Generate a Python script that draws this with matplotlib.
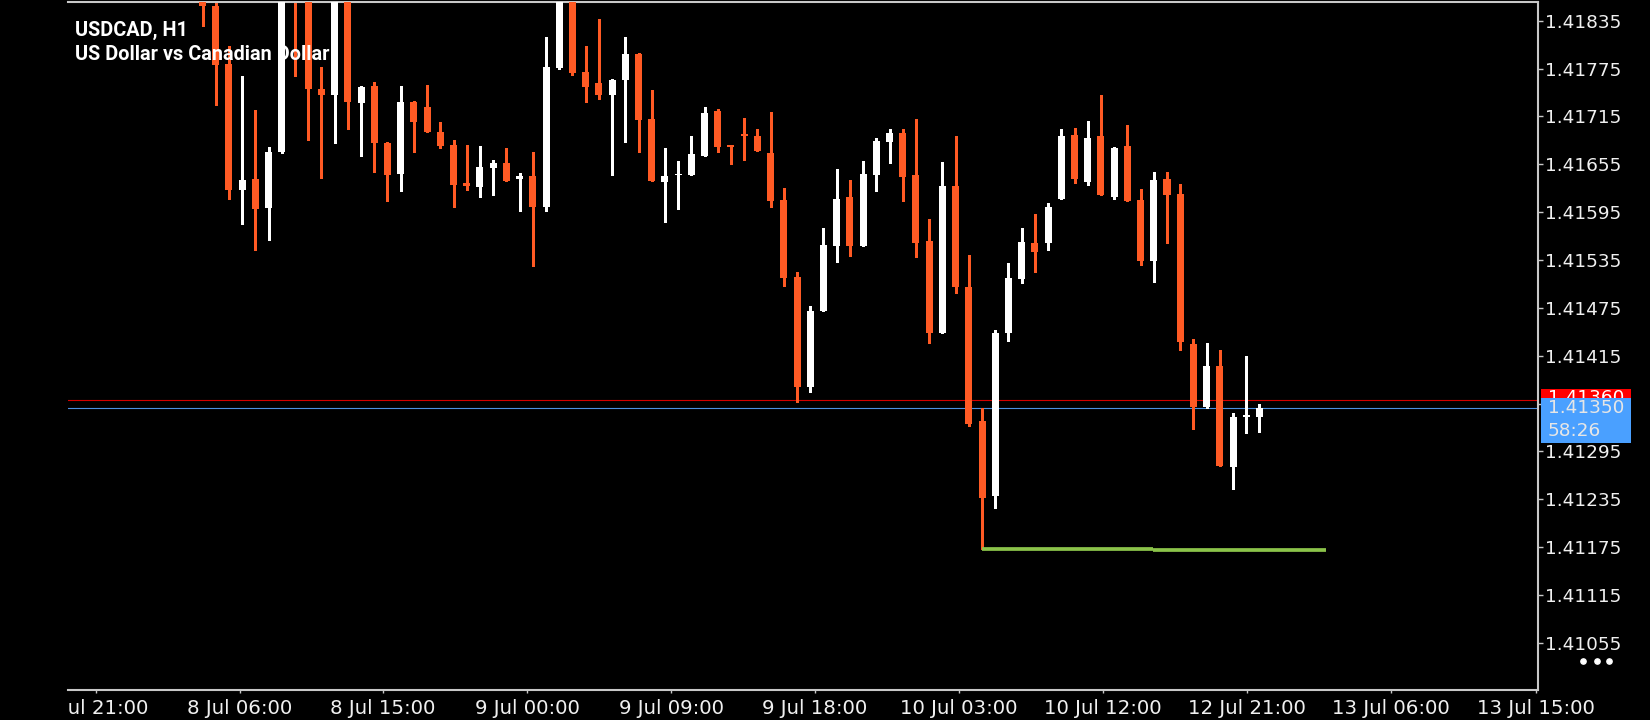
import matplotlib
matplotlib.use("Agg")
import matplotlib.pyplot as plt
import numpy as np
from matplotlib.patches import Rectangle
from matplotlib.lines import Line2D
from matplotlib.transforms import (blended_transform_factory, Bbox,
                                   TransformedBbox, IdentityTransform)

# ---------------- data (USDCAD, H1) ----------------
opens = [1.41880, 1.41853, 1.41781, 1.41623, 1.41637, 1.41600, 1.41670, 1.41899, 1.41871, 1.41749,
         1.41742, 1.41869, 1.41732, 1.41753, 1.41682, 1.41643, 1.41733, 1.41727, 1.41696, 1.41679,
         1.41631, 1.41626, 1.41651, 1.41657, 1.41636, 1.41640, 1.41602, 1.41776, 1.41871, 1.41771,
         1.41757, 1.41742, 1.41761, 1.41793, 1.41712, 1.41633, 1.41641, 1.41642, 1.41666, 1.41722,
         1.41679, 1.41693, 1.41690, 1.41669, 1.41610, 1.41514, 1.41376, 1.41471, 1.41553, 1.41614,
         1.41552, 1.41641, 1.41683, 1.41694, 1.41642, 1.41559, 1.41443, 1.41628, 1.41501, 1.41333,
         1.41239, 1.41443, 1.41511, 1.41556, 1.41557, 1.41612, 1.41692, 1.41633, 1.41690, 1.41614,
         1.41678, 1.41610, 1.41534, 1.41637, 1.41618, 1.41430, 1.41351, 1.41402, 1.41276, 1.41338,
         1.41338]
highs = [1.41892, 1.41861, 1.41803, 1.41766, 1.41723, 1.41677, 1.41905, 1.41911, 1.41876, 1.41777,
         1.41876, 1.41874, 1.41753, 1.41758, 1.41683, 1.41753, 1.41734, 1.41754, 1.41708, 1.41685,
         1.41679, 1.41678, 1.41660, 1.41675, 1.41644, 1.41670, 1.41815, 1.41880, 1.41880, 1.41803,
         1.41837, 1.41762, 1.41815, 1.41794, 1.41748, 1.41675, 1.41659, 1.41690, 1.41727, 1.41724,
         1.41679, 1.41713, 1.41699, 1.41721, 1.41625, 1.41520, 1.41477, 1.41575, 1.41649, 1.41635,
         1.41659, 1.41688, 1.41699, 1.41699, 1.41712, 1.41586, 1.41658, 1.41690, 1.41541, 1.41349,
         1.41447, 1.41531, 1.41575, 1.41593, 1.41606, 1.41699, 1.41700, 1.41709, 1.41742, 1.41677,
         1.41704, 1.41624, 1.41645, 1.41645, 1.41630, 1.41436, 1.41431, 1.41422, 1.41343, 1.41415,
         1.41354]
lows = [1.41828, 1.41729, 1.41611, 1.41580, 1.41548, 1.41560, 1.41669, 1.41766, 1.41685, 1.41638,
        1.41682, 1.41699, 1.41665, 1.41646, 1.41609, 1.41622, 1.41671, 1.41695, 1.41676, 1.41601,
        1.41623, 1.41614, 1.41616, 1.41634, 1.41596, 1.41527, 1.41596, 1.41774, 1.41767, 1.41733,
        1.41737, 1.41642, 1.41683, 1.41670, 1.41634, 1.41583, 1.41599, 1.41642, 1.41666, 1.41670,
        1.41656, 1.41661, 1.41672, 1.41602, 1.41503, 1.41357, 1.41369, 1.41471, 1.41532, 1.41540,
        1.41552, 1.41622, 1.41657, 1.41609, 1.41539, 1.41431, 1.41443, 1.41494, 1.41327, 1.41173,
        1.41224, 1.41434, 1.41506, 1.41520, 1.41547, 1.41612, 1.41631, 1.41629, 1.41616, 1.41611,
        1.41609, 1.41529, 1.41508, 1.41557, 1.41422, 1.41323, 1.41350, 1.41277, 1.41248, 1.41318,
        1.41320]
closes = [1.41853, 1.41779, 1.41623, 1.41635, 1.41599, 1.41670, 1.41899, 1.41871, 1.41750, 1.41742,
          1.41869, 1.41733, 1.41752, 1.41682, 1.41642, 1.41733, 1.41708, 1.41695, 1.41678, 1.41629,
          1.41628, 1.41652, 1.41657, 1.41634, 1.41640, 1.41601, 1.41777, 1.41871, 1.41770, 1.41752,
          1.41742, 1.41761, 1.41793, 1.41711, 1.41634, 1.41640, 1.41643, 1.41668, 1.41719, 1.41677,
          1.41677, 1.41690, 1.41672, 1.41609, 1.41512, 1.41376, 1.41471, 1.41554, 1.41611, 1.41553,
          1.41643, 1.41684, 1.41694, 1.41639, 1.41557, 1.41443, 1.41628, 1.41501, 1.41330, 1.41237,
          1.41443, 1.41512, 1.41558, 1.41545, 1.41601, 1.41690, 1.41636, 1.41688, 1.41616, 1.41675,
          1.41609, 1.41534, 1.41635, 1.41617, 1.41432, 1.41351, 1.41402, 1.41277, 1.41338, 1.41341,
          1.41350]

bid_price = 1.41350
ask_price = 1.41360
timer_text = "58:26"

# green support line (candle index anchors and price levels)
green_start = [59, 71.94]
green_end = [71.94, 85.0]
green_level = [1.411728, 1.411716]

ytick_labels = ["1.41835", "1.41775", "1.41715", "1.41655", "1.41595", "1.41535", "1.41475",
                "1.41415", "1.41355", "1.41295", "1.41235", "1.41175", "1.41115", "1.41055"]
xtick_labels = ["7 Jul 21:00", "8 Jul 06:00", "8 Jul 15:00", "9 Jul 00:00", "9 Jul 09:00",
                "9 Jul 18:00", "10 Jul 03:00", "10 Jul 12:00", "12 Jul 21:00", "13 Jul 06:00",
                "13 Jul 15:00"]
xtick_pos = [-8.08, 2.84, 13.66, 24.56, 35.46, 46.33, 57.24, 68.15, 79.07, 89.97, 100.95]

title1 = "USDCAD, H1"
title2 = "US Dollar vs Canadian Dollar"

# ---------------- style ----------------
BULL = "#ffffff"
BEAR = "#ff5a24"
GRID = "#c8c8c8"
W, H = 1650, 720

fig = plt.figure(figsize=(W / 100, H / 100), dpi=100, facecolor="black")
ax = fig.add_axes([68 / W, 30 / H, 1470 / W, 688 / H])
ax.set_facecolor("black")

o = np.array(opens)
hi = np.array(highs)
lo = np.array(lows)
c = np.array(closes)
x = np.arange(len(o))
up = c >= o
cols = np.where(up, BULL, BEAR)
body_lo = np.minimum(o, c)
body_h = np.maximum(np.abs(c - o), 0.00002)

ax.vlines(x, lo, hi, colors=cols, linewidth=0.8, antialiased=False, zorder=2)
ax.bar(x, body_h, bottom=body_lo, width=0.53, color=cols, linewidth=0,
       antialiased=False, zorder=3)

ax.axhline(ask_price, color="#d40000", linewidth=0.8, zorder=1)
ax.axhline(bid_price, color="#4a90e2", linewidth=0.8, zorder=1)
ax.hlines(green_level, green_start, green_end, colors="#8bc34a", linewidth=2.7,
          zorder=4, capstyle="butt")

ax.set_xlim(-10.18, 101.08)
ax.set_ylim(1.40996, 1.418585)

for s in ["top", "right", "bottom"]:
    ax.spines[s].set_color(GRID)
    ax.spines[s].set_linewidth(1.5)
ax.spines["left"].set_visible(False)

ax.yaxis.tick_right()
ax.set_yticks([float(t) for t in ytick_labels])
ax.set_yticklabels(ytick_labels)
ax.tick_params(axis="y", colors=GRID, labelcolor="#f0f0f0", length=3.6, width=1,
               pad=1.5, labelsize=13.3)
ax.set_xticks(xtick_pos)
ax.tick_params(axis="x", colors=GRID, length=2.5, width=1, labelbottom=False)

# x labels, clipped at the left edge of the plot
xtrans = blended_transform_factory(ax.transData, fig.transFigure)
clipbox = TransformedBbox(Bbox([[68 / W, 0], [1, 1]]), fig.transFigure)
for pos, lab in zip(xtick_pos, xtick_labels):
    t = ax.text(pos, 1 - 698.5 / H, lab, transform=xtrans, ha="center", va="top",
                color="#f0f0f0", fontsize=14.2, clip_on=True)
    t.set_clip_path(None)
    t.set_clip_box(clipbox)

# title
fig.text(75 / W, 1 - 36 / H, title1, color="white", fontsize=14.3,
         family="Roboto", weight="bold", va="baseline", zorder=5)
fig.text(75 / W, 1 - 60 / H, title2, color="white", fontsize=14.3,
         family="Roboto", weight="bold", va="baseline", zorder=5)

# price labels on the right
bid_y = ax.transData.transform((0, bid_price))[1]
ask_y = ax.transData.transform((0, ask_price))[1]
ident = IdentityTransform()
fig.add_artist(Rectangle((1541, ask_y - 10.7), 90, 21, transform=ident,
                         facecolor="#ff0000", edgecolor="none", zorder=6))
ask_txt = fig.text(1548, ask_y + 1.8, f"{ask_price:.5f}", transform=ident, color="white",
                   fontsize=13.3, va="center", ha="left", zorder=6.5)
# the ask label is mostly covered by the bid box: show only its visible strip
ask_txt.set_clip_box(Bbox([[1541, bid_y + 9.7], [1631, ask_y + 10.3]]))
ask_txt.set_clip_on(True)
fig.add_artist(Rectangle((1541, bid_y - 35.7), 90, 45.4, transform=ident,
                         facecolor="#4aa0ff", edgecolor="none", zorder=7))
fig.text(1548, bid_y - 0.7, f"{bid_price:.5f}", transform=ident, color="#e6e6e6",
         fontsize=13.3, va="center", ha="left", zorder=8)
fig.text(1548, bid_y - 23.7, timer_text, transform=ident, color="#e6e6e6",
         fontsize=13.3, va="center", ha="left", zorder=8)

# menu dots
fig.add_artist(Line2D([1583, 1597, 1609], [H - 661] * 3, transform=ident, marker="o",
                      markersize=3.8, color="white", linestyle="none", zorder=8))

fig.savefig("out.png", dpi=100, facecolor="black")
